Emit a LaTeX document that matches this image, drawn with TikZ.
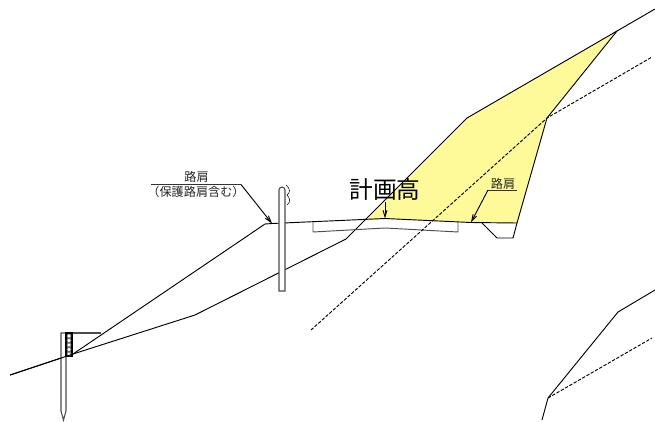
\documentclass[tikz,border=0pt]{standalone}
\usepackage{fontspec}
\newfontfamily\cjkfont{Noto Sans CJK JP}
\usetikzlibrary{arrows.meta}
\begin{document}
\begin{tikzpicture}[x=0.75pt,y=-0.75pt,line width=0.7pt]
    %
    % `line' is the ground and road outline, `cut' the dashed layer line.
    % `leader' is used for the label pointers.
    \tikzstyle{line} = [draw=black,line join=miter]
    \tikzstyle{cut} = [draw=black,dash pattern=on 2.5pt off 1.2pt]
    \tikzstyle{leader} = [draw=black,-{Straight Barb[length=5pt,width=3pt]}]
    \tikzstyle{post} = [draw=black!70,fill=white,line width=0.8pt]
    \tikzstyle{hole} = [draw=black!60,fill=white,line width=0.5pt]
    \tikzstyle{biglabel} = [inner sep=0pt,font=\cjkfont\fontsize{17.8}{20}\selectfont]
    \tikzstyle{smalllabel} = [inner sep=0pt,font=\cjkfont\fontsize{9.1}{10}\selectfont,text=black!85]
    %
    \useasboundingbox (0,0) rectangle (655,421);
    %
    % Fill
    \fill[fill=yellow!40] (365,220) -- (467,118) -- (617,31) -- (547,118) -- (517,223) -- (472,222) -- (385,219) -- cycle;
    %
    % Road points
    \coordinate (shoulder1) at (272,223.5);
    \coordinate (crown) at (385,218.5);
    \coordinate (shoulder2) at (471,222.5);
    \coordinate (ditch) at (517,223);
    \coordinate (knee) at (547,118);
    \coordinate (peak) at (617,31);
    %
    % Ground
    \draw[line] (10,375) -- (73,354) -- (195,315) -- (346,239) -- (365,220) -- (467,118) -- (peak) -- (655,9);
    \draw[line] (73,354) -- (265,224) -- (shoulder1) -- (crown) -- (shoulder2) -- (ditch) -- (knee) -- (peak);
    \draw[line] (482,223) -- (497,238) -- (513,238) -- (ditch);
    \draw[line,draw=black!70] (313,222) -- (313,232) -- (385,228) -- (458,232) -- (458,222);
    %
    % Layer lines
    \draw[cut] (311,330) -- (knee) -- (652,57);
    %
    % Lower right slope
    \draw[line] (542,420) -- (548,398) -- (618,312) -- (655,290);
    \draw[cut] (548,398) -- (652,338);
    %
    % Guard post
    \draw[post] (279,291) -- (279,190) arc [start angle=180,end angle=0,radius=2.25pt] -- (285,291) -- cycle;
    \draw[line,line width=0.4pt] (286,185) .. controls (291,189) and (290,193) .. (287,195) .. controls (290,198) and (291,202) .. (287,205);
    %
    % Left pile
    \draw[post] (61,333) -- (61,411) -- (63.5,420) -- (66,411) -- (66,333) -- cycle;
    \draw[post] (66,333) -- (101,333);
    \draw[post,draw=black,fill=black!60] (66,333) rectangle (72,356);
    \foreach \y in {336,340.5,345,349.5,354} {
        \draw[hole] (69,\y) circle [radius=1.5pt];
    }
    \draw[line] (10,375) -- (73,354);
    %
    % Labels
    \node[smalllabel] (kata1) at (196.5,177) {路肩};
    \node[smalllabel] (kata2) at (196,192) {（保護路肩含む）};
    \node[biglabel] (plan) at (385,189) {計画高};
    \node[smalllabel] (kata3) at (503,183.5) {路肩};
    %
    % Leaders
    \coordinate (lead1) at (241,184.5);
    \coordinate (lead2) at (488,190);
    \coordinate (lead3) at (385,202);
    \draw[line,draw=black!80] (151,184.5) -- (lead1);
    \draw[leader] (lead1) -- (shoulder1);
    \draw[line,draw=black!80] (517,190) -- (lead2);
    \draw[leader] (lead2) -- (shoulder2);
    \draw[leader] (lead3) -- (crown);
    %
\end{tikzpicture}
\end{document}
